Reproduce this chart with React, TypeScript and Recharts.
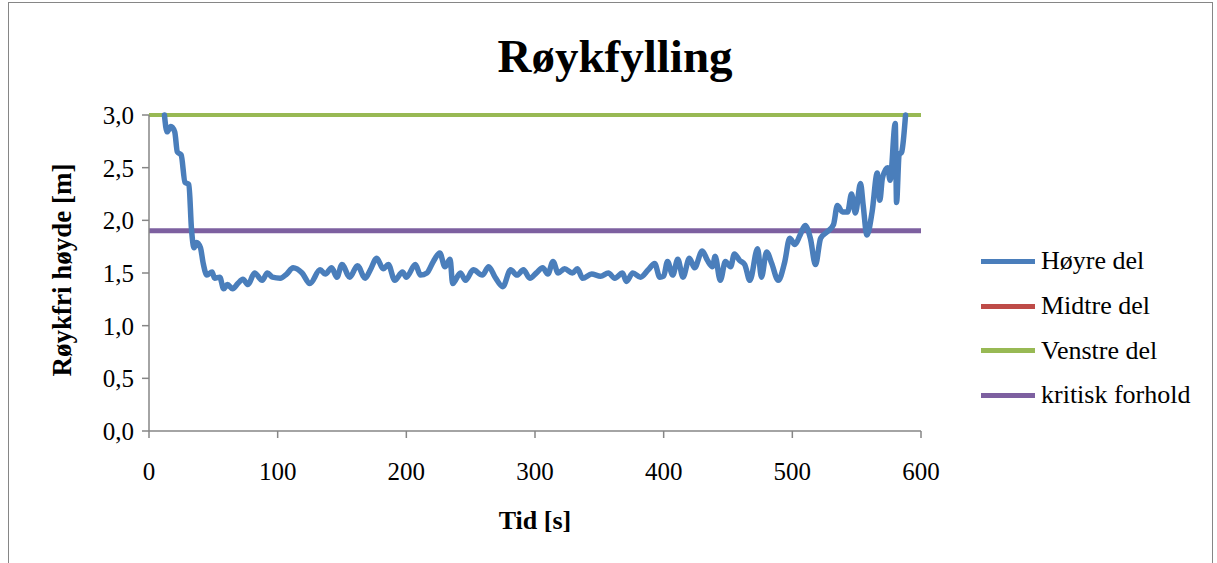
import { Legend, Line, LineChart, XAxis, YAxis } from "recharts";

// smoke-free height over time, right section of the hall
const tid = [
  12, 14, 17, 20, 22, 25, 28, 31, 33, 35, 37, 40, 42, 45, 49, 51, 55, 58, 61, 65,
  69, 73, 77, 82, 88, 92, 96, 102, 107, 112, 119, 125, 133, 137, 142, 146, 150,
  156, 162, 168, 172, 177, 182, 186, 191, 197, 200, 207, 211, 216, 221, 226, 230,
  234, 236, 242, 246, 252, 259, 264, 269, 275, 281, 286, 291, 296, 301, 306, 310,
  314, 318, 323, 329, 333, 337, 344, 351, 357, 362, 368, 371, 376, 382, 388, 393,
  397, 400, 403, 407, 411, 415, 420, 424, 430, 434, 438, 440, 444, 448, 452, 455,
  459, 463, 467, 473, 476, 480, 484, 489, 494, 498, 502, 506, 510, 514, 518, 522,
  527, 532, 535, 539, 543, 546, 549, 553, 555, 558, 562, 566, 568, 570, 574, 576,
  580, 581, 583, 585, 588,
];
const hoyreDel = [
  3.0, 2.84, 2.89, 2.84, 2.65, 2.62, 2.36, 2.34, 1.92, 1.74, 1.79, 1.74, 1.6, 1.48,
  1.51, 1.45, 1.46, 1.35, 1.39, 1.35, 1.4, 1.44, 1.39, 1.5, 1.43, 1.5, 1.46, 1.45,
  1.49, 1.55, 1.5, 1.4, 1.53, 1.49, 1.55, 1.46, 1.58, 1.46, 1.57, 1.45, 1.53, 1.64,
  1.54, 1.58, 1.43, 1.51, 1.46, 1.58, 1.48, 1.5, 1.61, 1.69, 1.56, 1.63, 1.4, 1.5,
  1.43, 1.53, 1.48, 1.56, 1.46, 1.37, 1.53, 1.48, 1.53, 1.45, 1.5, 1.55, 1.49, 1.61,
  1.5, 1.54, 1.5, 1.54, 1.45, 1.49, 1.47, 1.5, 1.45, 1.5, 1.42, 1.5, 1.46, 1.53,
  1.59, 1.46, 1.47, 1.61, 1.48, 1.63, 1.46, 1.64, 1.55, 1.71, 1.62, 1.56, 1.66, 1.43,
  1.61, 1.56, 1.68, 1.62, 1.58, 1.43, 1.73, 1.46, 1.7, 1.59, 1.43, 1.6, 1.83, 1.77,
  1.86, 1.95, 1.83, 1.58, 1.83, 1.89, 1.96, 2.14, 2.08, 2.08, 2.25, 2.07, 2.35, 2.15,
  1.86, 2.08, 2.45, 2.19, 2.4, 2.5, 2.38, 2.92, 2.17, 2.62, 2.65, 3.0,
];

// the other two sections stay clear of smoke the whole time
const tidSpenn = [0, 600];
const midtreDel = [3.0, 3.0];
const venstreDel = [3.0, 3.0];
const kritisk = [1.9, 1.9];

const xTicks = [0, 100, 200, 300, 400, 500, 600];
const yTicks = [0, 0.5, 1, 1.5, 2, 2.5, 3];

const serier = [
  { navn: "Høyre del", farge: "#4A7EBB" },
  { navn: "Midtre del", farge: "#BE4B48" },
  { navn: "Venstre del", farge: "#98B954" },
  { navn: "kritisk forhold", farge: "#7D60A0" },
];

const hoyreData = tid.map((t, i) => ({ t, v: hoyreDel[i] }));
const midtreData = tidSpenn.map((t, i) => ({ t, v: midtreDel[i] }));
const venstreData = tidSpenn.map((t, i) => ({ t, v: venstreDel[i] }));
const kritiskData = tidSpenn.map((t, i) => ({ t, v: kritisk[i] }));

const FONT = '"Liberation Serif", "Times New Roman", serif';
const AXIS = "#868686";

const komma = (v: number) => v.toFixed(1).replace(".", ",");

const Forklaring = () => (
  <div style={{ fontFamily: FONT, fontSize: 26, color: "#000" }}>
    {serier.map((s) => (
      <div key={s.navn} style={{ display: "flex", alignItems: "center", height: 44.7 }}>
        <div style={{ width: 54, height: 5, background: s.farge, marginRight: 6 }} />
        <span>{s.navn}</span>
      </div>
    ))}
  </div>
);

export default function App() {
  return (
    <div
      style={{
        position: "absolute",
        left: 8,
        top: 2,
        width: 1205,
        height: 600,
        border: `1px solid ${AXIS}`,
        boxSizing: "border-box",
        background: "#fff",
      }}
    >
      <LineChart
        width={1202}
        height={565}
        margin={{ top: 112, right: 60, bottom: 77, left: 0 }}
      >
        <text
          x={606}
          y={69}
          textAnchor="middle"
          style={{ fontFamily: FONT, fontSize: 47, fontWeight: "bold" }}
        >
          Røykfylling
        </text>
        <text
          transform="translate(53 267) rotate(-90)"
          textAnchor="middle"
          dominantBaseline="central"
          style={{ fontFamily: FONT, fontSize: 27, fontWeight: "bold" }}
        >
          Røykfri høyde [m]
        </text>
        <text
          x={526}
          y={517}
          textAnchor="middle"
          dominantBaseline="central"
          style={{ fontFamily: FONT, fontSize: 26, fontWeight: "bold" }}
        >
          Tid [s]
        </text>
        <XAxis
          type="number"
          dataKey="t"
          domain={[0, 600]}
          ticks={xTicks}
          height={60}
          stroke={AXIS}
          strokeWidth={1.5}
          tickSize={7}
          tickMargin={24}
          tick={{ fill: "#000", fontFamily: FONT, fontSize: 25 }}
          allowDuplicatedCategory={false}
        />
        <YAxis
          type="number"
          dataKey="v"
          domain={[0, 3]}
          ticks={yTicks}
          width={140}
          stroke={AXIS}
          strokeWidth={1.5}
          tickSize={7}
          tickMargin={8}
          tickFormatter={komma}
          tick={{ fill: "#000", fontFamily: FONT, fontSize: 25 }}
        />
        <Legend
          layout="vertical"
          align="right"
          verticalAlign="middle"
          content={<Forklaring />}
          wrapperStyle={{ left: 972, top: 236, width: 230, right: "auto" }}
        />
        <Line
          data={midtreData}
          dataKey="v"
          name="Midtre del"
          stroke="#BE4B48"
          strokeWidth={4}
          dot={false}
          isAnimationActive={false}
        />
        <Line
          data={venstreData}
          dataKey="v"
          name="Venstre del"
          stroke="#98B954"
          strokeWidth={4}
          dot={false}
          isAnimationActive={false}
        />
        <Line
          data={kritiskData}
          dataKey="v"
          name="kritisk forhold"
          stroke="#7D60A0"
          strokeWidth={5}
          dot={false}
          isAnimationActive={false}
        />
        <Line
          data={hoyreData}
          type="monotone"
          dataKey="v"
          name="Høyre del"
          stroke="#4A7EBB"
          strokeWidth={5.5}
          strokeLinejoin="round"
          strokeLinecap="round"
          dot={false}
          isAnimationActive={false}
        />
      </LineChart>
    </div>
  );
}
